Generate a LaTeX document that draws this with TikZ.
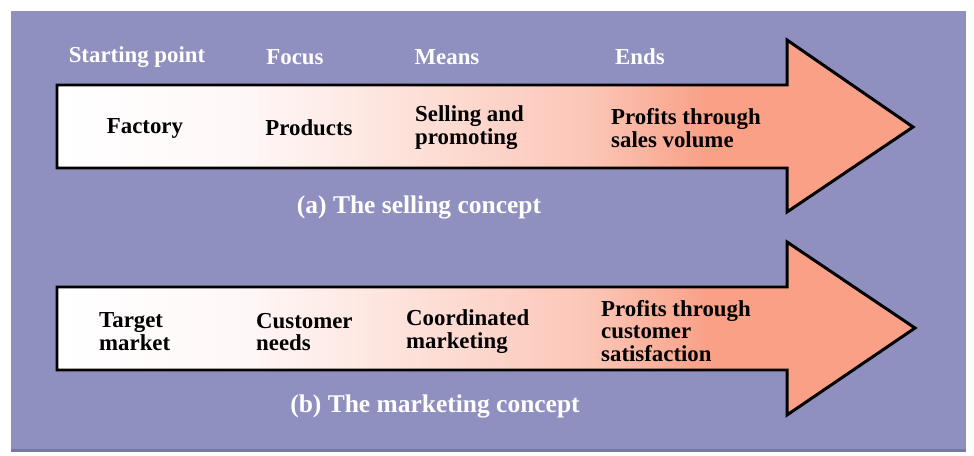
\documentclass[tikz,border=0pt]{standalone}
\usepackage{fontspec}
\setmainfont{Liberation Serif}
\usepackage{tikz}

\definecolor{panel}{RGB}{144,144,192}
\definecolor{paneledge}{RGB}{120,120,165}
\definecolor{salmon}{RGB}{249,160,135}

% white-to-salmon fill, stops kept inside the 25bp..75bp band
\pgfdeclarehorizontalshading{concept}{100bp}{color(0bp)=(white); color(25bp)=(white);
  color(36bp)=(white!97!red); color(45bp)=(salmon!30!white); color(56bp)=(salmon!60!white);
  color(63bp)=(salmon); color(75bp)=(salmon); color(100bp)=(salmon)}

\tikzset{
  bigarrow/.style={draw=black, line width=1.7pt, line join=miter, shading=concept},
  head/.style={text=white, font=\fontsize{13}{13}\selectfont\bfseries},
  inside/.style={text=black, font=\fontsize{13}{13}\selectfont\bfseries, align=left},
  caption/.style={text=white, font=\fontsize{14.5}{15}\selectfont\bfseries}
}

\begin{document}
\begin{tikzpicture}[x=0.02cm, y=-0.02cm]
\useasboundingbox (0,0) rectangle (974,456);

% background panel
\fill[panel] (11,11) rectangle (966,452);
\fill[paneledge] (11,449) rectangle (966,452);

% (a) selling concept
\path[bigarrow] (57,85) -- (787,85) -- (787,40) -- (913,127) -- (787,212) -- (787,168) -- (57,168) -- cycle;

\path (137,57) node[head] (start_a) {Starting point};
\path (295,57) node[head] (focus_a) {Focus};
\path (447,57) node[head] (means_a) {Means};
\path (640,57) node[head] (ends_a) {Ends};

\path (145,128) node[inside] (factory) {Factory};
\path (309,128) node[inside] (products) {Products};
\path (409,128) node[inside, anchor=west] (selling) {Selling and\\promoting};
\path (605,128) node[inside, anchor=west] (volume) {Profits through\\sales volume};

\path (419,207) node[caption] (cap_a) {(a) The selling concept};

% (b) marketing concept
\path[bigarrow] (57,287) -- (787,287) -- (787,242) -- (915,328) -- (787,415) -- (787,370) -- (57,370) -- cycle;

\path (93,332) node[inside, anchor=west] (target) {Target\\market};
\path (250,332) node[inside, anchor=west] (needs) {Customer\\needs};
\path (400,332) node[inside, anchor=west] (coord) {Coordinated\\marketing};
\path (595,331) node[inside, anchor=west] (satisf) {Profits through\\customer\\satisfaction};

\path (435,406) node[caption] (cap_b) {(b) The marketing concept};
\end{tikzpicture}
\end{document}
